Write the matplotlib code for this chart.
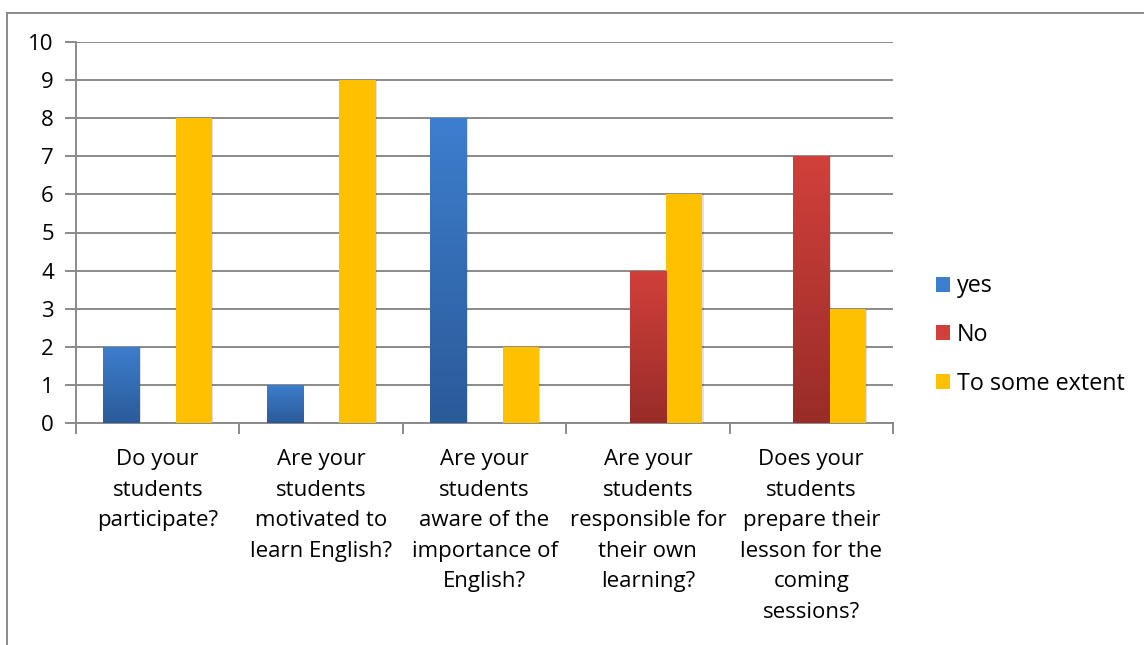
import matplotlib
matplotlib.use('Agg')
import matplotlib.pyplot as plt
import numpy as np
from matplotlib.patches import Patch
from matplotlib.colors import LinearSegmentedColormap

# ── Data ─────────────────────────────────────────────────────────
categories = [
    'Do your\nstudents\nparticipate?',
    'Are your\nstudents\nmotivated to\nlearn English?',
    'Are your\nstudents\naware of the\nimportance of\nEnglish?',
    'Are your\nstudents\nresponsible for\ntheir own\nlearning?',
    'Does your\nstudents\nprepare their\nlesson for the\ncoming\nsessions?',
]
series_names = ['yes', 'No', 'To some extent']
yes_vals = [2, 1, 8, 0, 0]
no_vals = [0, 0, 0, 4, 7]
extent_vals = [8, 9, 2, 6, 3]
y_ticks = list(range(0, 11))

# ── Style ────────────────────────────────────────────────────────
grid_color = '#8a8a8a'
font = 'Open Sans'
fs = 16
# (top, bottom) gradient colours; yellow is flat
fills = [('#3d7ece', '#2b5a98'), ('#d1403b', '#992c28'), ('#ffc000', '#ffc000')]

fig = plt.figure(figsize=(11.44, 6.45), dpi=100)
ax = fig.add_axes([76 / 1144, 1 - 423 / 645, (893 - 76) / 1144, (423 - 42) / 645])

n = len(categories)
x = np.arange(n)
w = 1 / 4.5
values = [yes_vals, no_vals, extent_vals]

for k, (vals, (top, bot)) in enumerate(zip(values, fills)):
    cmap = LinearSegmentedColormap.from_list(f'g{k}', [bot, top])
    grad = np.linspace(0, 1, 256).reshape(-1, 1)
    bars = ax.bar(x + (k - 1) * w, vals, width=w, color=top, linewidth=0, zorder=3)
    for b in bars:
        if b.get_height() <= 0:
            continue
        bx, by = b.get_x(), b.get_y()
        bw, bh = b.get_width(), b.get_height()
        # soft drop shadow
        ax.add_patch(plt.Rectangle((bx + 0.008, by), bw, bh, color='#000000',
                                   alpha=0.12, lw=0, zorder=2))
        if top != bot:
            im = ax.imshow(grad, cmap=cmap, aspect='auto', origin='lower',
                           extent=(bx, bx + bw, by, by + bh), zorder=4)
            im.set_clip_path(b)

ax.set_xlim(-0.5, n - 0.5)
ax.set_ylim(0, 10)
ax.set_yticks(y_ticks)
ax.set_yticklabels([str(t) for t in y_ticks], fontsize=fs, fontfamily=font)
ax.yaxis.grid(True, color=grid_color, linewidth=1.4, zorder=0)
ax.set_axisbelow(True)

# category boundary ticks below the axis
ax.set_xticks(np.arange(-0.5, n, 1.0))
ax.set_xticklabels([])
ax.set_xticks(x, minor=True)
ax.set_xticklabels(categories, minor=True, fontsize=fs, fontfamily=font,
                   linespacing=1.59, va='top')
ax.tick_params(axis='x', which='minor', length=0, pad=19)
ax.tick_params(axis='x', which='major', length=8, width=1.4, color=grid_color)
ax.tick_params(axis='y', length=8, width=1.4, color=grid_color, pad=8)

for s in ['top', 'right']:
    ax.spines[s].set_visible(False)
for s in ['left', 'bottom']:
    ax.spines[s].set_color(grid_color)
    ax.spines[s].set_linewidth(1.4)

handles = [Patch(facecolor=c[0], edgecolor='none', label=nm)
           for nm, c in zip(series_names, fills)]
ax.legend(handles=handles, loc='center left', bbox_to_anchor=(915 / 1144, 1 - 335 / 645),
          bbox_transform=fig.transFigure, frameon=False,
          prop={'family': font, 'size': 16.8}, handlelength=0.6, handleheight=0.6,
          handletextpad=0.3, labelspacing=1.05)

# outer chart frame (top and left edges in view)
fig.add_artist(plt.Line2D([7 / 1144, 1.0], [1 - 12.5 / 645] * 2, color=grid_color,
                          lw=1.4, transform=fig.transFigure))
fig.add_artist(plt.Line2D([7 / 1144] * 2, [0.0, 1 - 12.5 / 645], color=grid_color,
                          lw=1.4, transform=fig.transFigure))

fig.savefig('out.png', dpi=100, facecolor='white')
